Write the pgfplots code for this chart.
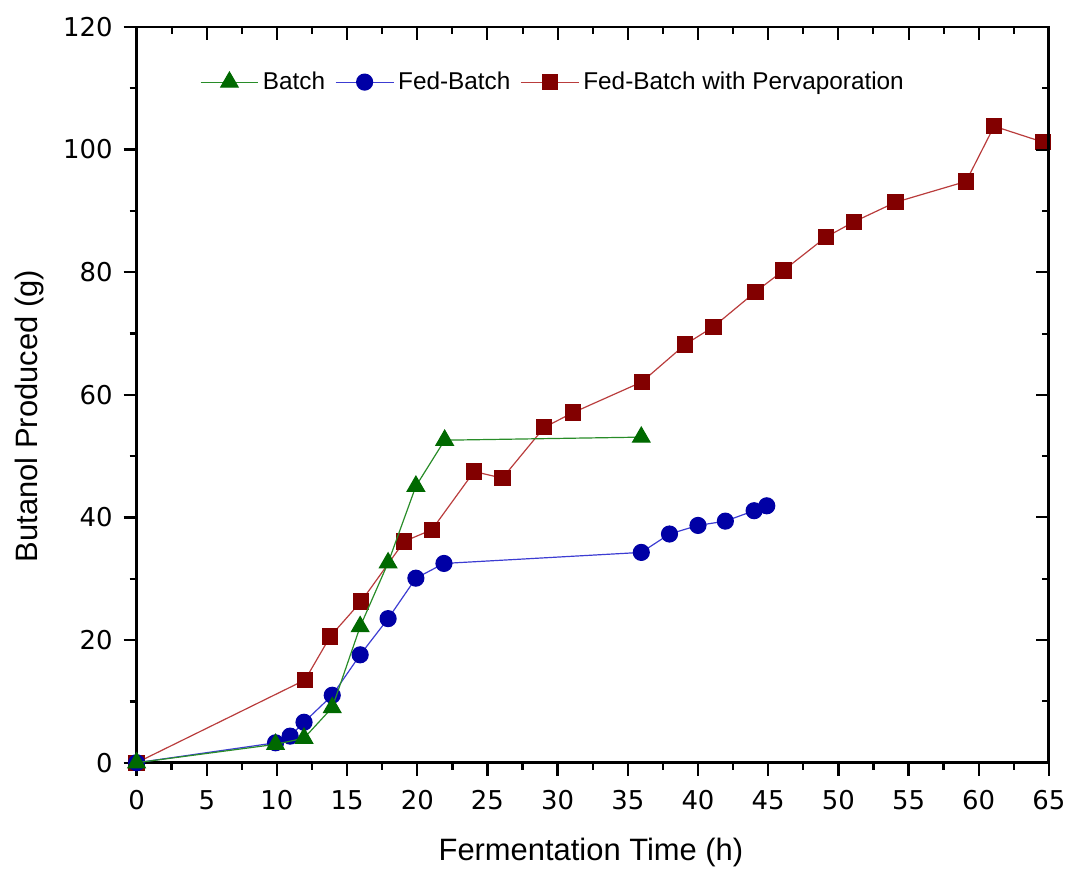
\documentclass[border=0pt]{standalone}
\usepackage{fontspec}
\setmainfont{Liberation Sans}
\newfontfamily\dejavu{DejaVu Sans}
\usepackage{pgfplots}
\pgfplotsset{compat=1.18}
\definecolor{gmark}{RGB}{0,105,0}
\definecolor{gline}{RGB}{40,140,40}
\definecolor{bmark}{RGB}{0,0,165}
\definecolor{bline}{RGB}{60,60,210}
\definecolor{rmark}{RGB}{130,0,0}
\definecolor{rline}{RGB}{185,60,60}
\pgfplotsset{
  common/.style={
    scale only axis, width=457.5pt, height=369pt,
    xmin=0, xmax=65, ymin=0, ymax=120,
    xtick={0,5,...,65}, ytick={0,20,...,120},
    minor x tick num=1, minor y tick num=1,
    major tick length=6.5pt, minor tick length=3.5pt,
  },
}
\begin{document}
\begin{tikzpicture}
\path (-68.5pt,-55pt) rectangle (467.5pt,382.5pt);
\begin{axis}[
  common,
  at={(0pt,0pt)}, anchor=south west,
  xtick pos=bottom, ytick pos=left,
  tick align=outside,
  axis line style={line width=1.4pt},
  tick style={line width=1.2pt, black},
  tick label style={font=\dejavu\fontsize{13}{13}\selectfont},
  xticklabel style={yshift=-4pt},
  yticklabel style={xshift=-2pt},
  /pgf/number format/assume math mode=true,
  xlabel={Fermentation Time (h)},
  ylabel={Butanol Produced (g)},
  label style={font=\fontsize{15.5}{16}\selectfont},
  xlabel style={at={(axis description cs:0.498,0)}, anchor=center, yshift=-45pt},
  ylabel style={at={(axis description cs:-0.117,0.471)}, anchor=center},
  clip mode=individual,
  reverse legend,
  legend columns=3,
  legend style={at={(0.069,0.925)}, anchor=west, draw=none, fill=none,
    font=\fontsize{12.2}{13}\selectfont, inner sep=0pt,
    /tikz/every even column/.append style={column sep=3pt}},
  legend image code/.code={%
    \draw[mark repeat=2,mark phase=2] plot coordinates {(0pt,0pt) (14.5pt,0pt) (29pt,0pt)};},
]
\addplot[rline, line width=0.6pt, mark=square*, mark size=3.8pt, mark options={fill=rmark, draw=rmark}]
coordinates {
(0,0) (12.0,13.5) (13.8,20.6) (16.0,26.3) (19.07,36.1) (21.04,38.0) (24.05,47.5) (26.06,46.4)
(29.05,54.7) (31.1,57.1) (36.0,62.1) (39.08,68.2) (41.1,71.1) (44.1,76.8) (46.1,80.3)
(49.1,85.7) (51.1,88.2) (54.07,91.4) (59.1,94.8) (61.1,103.8) (64.6,101.2)
};
\addlegendentry{Fed-Batch with Pervaporation}
\addplot[bline, line width=0.6pt, mark=*, mark size=4pt, mark options={fill=bmark, draw=bmark}]
coordinates {
(0,0) (9.9,3.25) (10.94,4.34) (11.93,6.6) (13.94,11.0) (15.93,17.6) (17.92,23.5) (19.9,30.1)
(21.9,32.5) (35.96,34.3) (37.97,37.3) (40.0,38.7) (41.95,39.4) (44.0,41.1) (44.9,41.9)
};
\addlegendentry{Fed-Batch}
\addplot[gline, line width=0.6pt, mark=triangle*, mark size=5pt, mark options={fill=gmark, draw=gmark}]
coordinates {
(0,0) (9.9,3.0) (11.93,4.0) (13.94,9.0) (15.93,22.2) (17.92,32.6) (19.9,45.1) (21.95,52.6) (35.96,53.1)
};
\addlegendentry{Batch}
\end{axis}
\begin{axis}[
  common,
  at={(0pt,0pt)}, anchor=south west,
  xtick pos=top, ytick pos=right,
  tick align=inside,
  xticklabels={}, yticklabels={},
  axis line style={draw=none},
  tick style={line width=1pt, black},
]
\end{axis}
\draw[line width=0.7pt] (0pt,369pt) -- (457.5pt,369pt);
\draw[line width=1.4pt] (457.5pt,0pt) -- (457.5pt,369pt);
\end{tikzpicture}
\end{document}
